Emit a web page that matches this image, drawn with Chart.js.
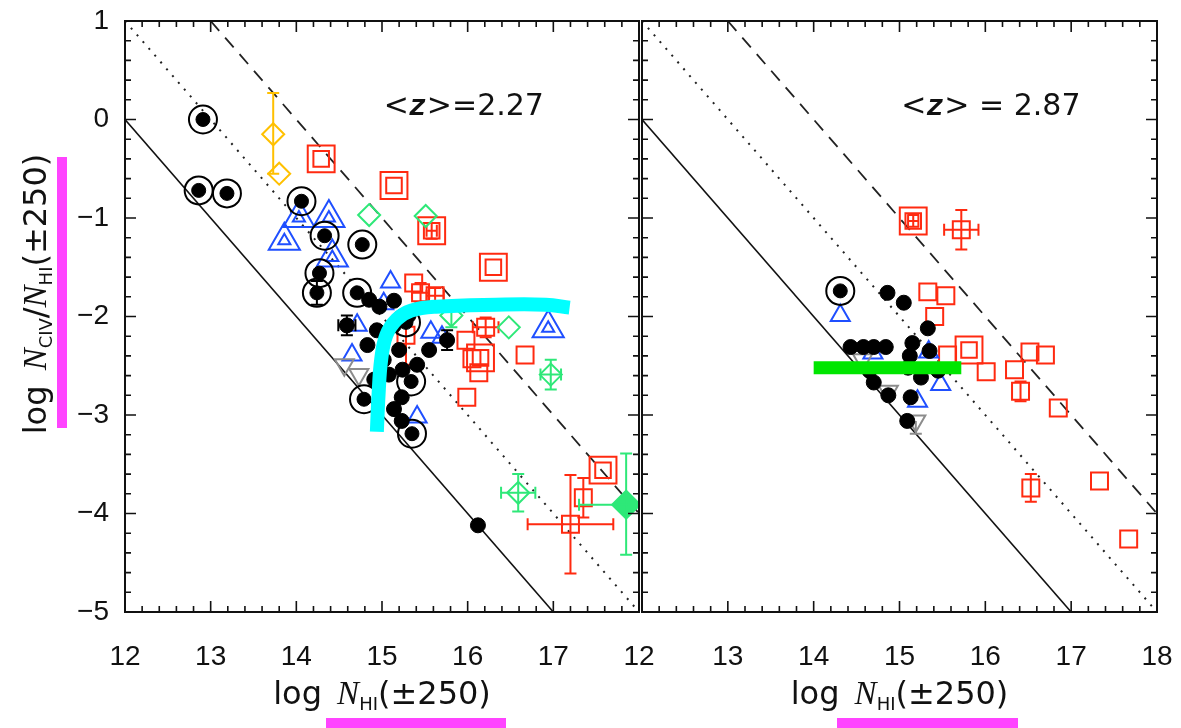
<!DOCTYPE html>
<html>
<head>
<meta charset="utf-8">
<script src="https://cdn.jsdelivr.net/npm/chart.js@4.4.0/dist/chart.umd.min.js"></script>
<style>
  html, body { margin: 0; padding: 0; background: #fff; }
  #wrap { position: relative; width: 1181px; height: 728px; overflow: hidden; }
  #left { position: absolute; left: 0; top: 0; }
  #right { position: absolute; left: 621px; top: 0; }
  .mark { position: absolute; background: #ff44ff; }
</style>
</head>
<body>
<div id="wrap">
  <canvas id="left" width="660" height="728"></canvas>
  <canvas id="right" width="560" height="728"></canvas>
  <div class="mark" style="left:57px;top:157px;width:10px;height:271px"></div>
  <div class="mark" style="left:326px;top:718px;width:180px;height:12px"></div>
  <div class="mark" style="left:837px;top:718px;width:181px;height:12px"></div>
</div>
<script>
// axes
const xTicks = [12, 13, 14, 15, 16, 17, 18];
const yTicks = [1, 0, -1, -2, -3, -4, -5];

// reference lines  log(NCIV/NHI) = c - log NHI
const lineSolid = [[12, 0], [17, -5]];
const lineDotted = [[12, 1], [18, -5]];
const lineDashed = [[13, 1], [18, -4]];

// points: [x, y, xErrLo, xErrHi, yErrLo, yErrHi]
// ---- left panel, <z> = 2.27
const leftDots = [[14.85,-1.83],[14.97,-1.90],[15.14,-1.84],[15.31,-1.99],[14.94,-2.14],[15.14,-2.09],
  [14.83,-2.29],[15.02,-2.44],[15.20,-2.34],[14.91,-2.64],[15.08,-2.59],[15.24,-2.54],[15.23,-2.82],
  [15.14,-2.94],[15.23,-3.06],[15.41,-2.49],[15.55,-2.34],[16.12,-4.12]];
const leftDotsErr = [[14.59,-2.09,0.1,0.1,0.1,0.1],[15.76,-2.24,0,0,0.1,0.1]];
const leftRings = [[12.91,0.0],[12.86,-0.72],[13.19,-0.75],[14.06,-0.83],[14.33,-1.18],[14.77,-1.27],
  [14.27,-1.56],[14.24,-1.76,0,0,0.12,0.12],[14.71,-1.76],[15.28,-2.06],[15.34,-2.66],[14.79,-2.84],[15.35,-3.19]];
const leftBlueBig = [[14.03,-1.00],[13.86,-1.23],[14.38,-1.00],[14.42,-1.40],[16.94,-2.12]];
const leftBlueSmall = [[15.10,-1.65],[14.71,-2.09],[14.65,-2.39],[15.41,-3.02],[15.57,-2.16],[15.70,-2.21],[15.02,-1.87]];
const leftGreyDown = [[14.56,-2.49],[14.73,-2.59]];
const leftRedBig = [[14.29,-0.40],[15.14,-0.67],[15.58,-1.13,0.06,0.06,0.08,0.08],[16.30,-1.50],[16.15,-2.42],[17.58,-3.56]];
const leftRedSmall = [[15.37,-1.66],[15.45,-1.76,0.1,0.1,0.1,0.1],[15.62,-1.79,0.1,0.1,0.08,0.08],
  [15.28,-2.19,0,0,0.3,0.1],[16.21,-2.11,0.15,0.15,0.1,0.1],[15.98,-2.24],[16.05,-2.43],[16.13,-2.57],
  [16.67,-2.39],[15.99,-2.82],[17.20,-4.11,0.5,0.5,0.5,0.5],[17.35,-3.84,0,0,0.2,0.2]];
const leftGreenOpen = [[14.85,-0.97],[15.51,-0.98],[16.48,-2.11],[15.81,-1.99,0,0,0.12,0.1],
  [16.97,-2.59,0.12,0.12,0.15,0.15],[16.59,-3.79,0.2,0.2,0.19,0.19]];
const leftGreenFilled = [[17.85,-3.91,0.55,0,0.51,0.52]];
const leftYellow = [[13.73,-0.15,0,0,0.4,0.42],[13.80,-0.55]];
const leftHighlight = [[14.94,-3.17],[14.96,-2.79],[14.99,-2.44],[15.05,-2.19],[15.17,-2.03],
  [15.34,-1.94],[15.63,-1.90],[16.33,-1.88],[16.91,-1.88],[17.19,-1.91]];

// ---- right panel, <z> = 2.87
const rightDots = [[14.86,-1.76],[15.05,-1.86],[14.43,-2.31],[14.58,-2.31],[14.70,-2.31],[14.84,-2.31],
  [15.15,-2.27],[15.33,-2.12],[14.70,-2.67],[14.87,-2.80],[15.13,-2.82],[15.09,-3.06],[15.10,-2.52],
  [15.25,-2.62],[15.45,-2.55],[14.65,-2.55],[15.35,-2.35],[15.12,-2.40]];
const rightRings = [[14.31,-1.74]];
const rightBlueSmall = [[14.31,-1.99],[14.69,-2.37],[15.34,-2.36],[15.21,-2.86],[15.48,-2.69]];
const rightGreyDown = [[14.57,-2.44],[14.87,-2.76],[15.19,-3.06,0,0,0.13,0]];
const rightRedBig = [[15.16,-1.03,0.06,0.06,0.06,0.06],[15.81,-2.34]];
const rightRedSmall = [[15.33,-1.75],[15.54,-1.79],[15.41,-2.00],[15.56,-2.39],[16.01,-2.56],[16.34,-2.54],
  [16.52,-2.36],[16.70,-2.39],[16.85,-2.93],[17.33,-3.67],[17.67,-4.26],[15.72,-1.12,0.2,0.2,0.2,0.2],
  [16.41,-2.76,0,0,0.1,0.1],[16.53,-3.74,0,0,0.14,0.14]];
const rightHighlight = [[14.0,-2.52],[15.72,-2.52]];

const SANS = '"Liberation Sans", Arial, sans-serif';
const DJV = '"DejaVu Sans", sans-serif';
const RED = '#ff2a10', BLUE = '#1f4fff', GREEN = '#2ee878', GREY = '#8c8c8c', GOLD = '#ffc000';

function pts(arr) {
  return arr.map(a => ({
    x: a[0], y: a[1],
    ex: a.length > 2 ? [a[2], a[3]] : null,
    ey: a.length > 4 ? [a[4], a[5]] : null
  }));
}

function marks(arr, style, r, color, fill, extra) {
  return Object.assign({
    type: 'scatter', data: pts(arr), pointStyle: style, pointRadius: r,
    pointBorderColor: color, pointBackgroundColor: fill || 'rgba(0,0,0,0)',
    pointBorderWidth: 2, borderColor: color, errors: true, order: 5
  }, extra || {});
}

function curve(arr, color, width, dash, order, tension) {
  return {
    type: 'scatter', showLine: true, data: pts(arr), borderColor: color, borderWidth: width,
    borderDash: dash || [], pointRadius: 0, order: order, tension: tension || 0, borderCapStyle: 'butt'
  };
}

function refLines() {
  return [
    curve(lineSolid, '#111', 1.6, [], 30),
    curve(lineDotted, '#222', 2, [2, 7], 30),
    curve(lineDashed, '#222', 1.8, [13, 9], 30)
  ];
}

// inner ticks on all four sides and the frame
const frameTicks = {
  id: 'frameTicks',
  afterDraw(chart) {
    const { ctx, chartArea: a, scales: { x, y } } = chart;
    ctx.save();
    ctx.strokeStyle = '#111';
    ctx.lineWidth = 2;
    ctx.strokeRect(a.left, a.top, a.right - a.left, a.bottom - a.top);
    ctx.lineWidth = 1.6;
    ctx.beginPath();
    const nx = Math.round((x.max - x.min) / 0.2);
    for (let i = 0; i <= nx; i++) {
      const px = x.getPixelForValue(x.min + i * 0.2);
      const len = i % 5 === 0 ? 11 : 6;
      ctx.moveTo(px, a.bottom); ctx.lineTo(px, a.bottom - len);
      ctx.moveTo(px, a.top); ctx.lineTo(px, a.top + len);
    }
    const ny = Math.round((y.max - y.min) / 0.2);
    for (let i = 0; i <= ny; i++) {
      const py = y.getPixelForValue(y.min + i * 0.2);
      const len = i % 5 === 0 ? 11 : 6;
      ctx.moveTo(a.left, py); ctx.lineTo(a.left + len, py);
      ctx.moveTo(a.right, py); ctx.lineTo(a.right - len, py);
    }
    ctx.stroke();
    ctx.restore();
  }
};

// error bars with caps, drawn right after their own dataset
const errorBars = {
  id: 'errorBars',
  afterDatasetDraw(chart, args) {
    const ds = chart.data.datasets[args.index];
    if (!ds.errors) return;
    const { ctx, scales: { x, y } } = chart;
    const cap = 6;
    ctx.save();
    ctx.strokeStyle = ds.borderColor;
    ctx.lineWidth = 2;
    ctx.beginPath();
    ds.data.forEach(p => {
      const cx = x.getPixelForValue(p.x), cy = y.getPixelForValue(p.y);
      if (p.ex) {
        const l = x.getPixelForValue(p.x - p.ex[0]), r = x.getPixelForValue(p.x + p.ex[1]);
        ctx.moveTo(l, cy); ctx.lineTo(r, cy);
        if (p.ex[0]) { ctx.moveTo(l, cy - cap); ctx.lineTo(l, cy + cap); }
        if (p.ex[1]) { ctx.moveTo(r, cy - cap); ctx.lineTo(r, cy + cap); }
      }
      if (p.ey) {
        const b = y.getPixelForValue(p.y - p.ey[0]), t = y.getPixelForValue(p.y + p.ey[1]);
        ctx.moveTo(cx, b); ctx.lineTo(cx, t);
        if (p.ey[0]) { ctx.moveTo(cx - cap, b); ctx.lineTo(cx + cap, b); }
        if (p.ey[1]) { ctx.moveTo(cx - cap, t); ctx.lineTo(cx + cap, t); }
      }
    });
    ctx.stroke();
    ctx.restore();
  }
};

function richText(ctx, parts, x, y, align) {
  let w = 0;
  parts.forEach(p => { ctx.font = p.font; w += ctx.measureText(p.text).width + (p.gap || 0); });
  let cx = align === 'center' ? x - w / 2 : x;
  parts.forEach(p => {
    ctx.font = p.font;
    cx += p.gap || 0;
    ctx.fillText(p.text, cx, y + (p.dy || 0));
    cx += ctx.measureText(p.text).width;
  });
}

const nItalic = 'italic 33px "Liberation Serif", serif';
const subFont = '18px ' + DJV;
const titleFont = '32px ' + DJV;
const titleX = [
  { text: 'log ', font: titleFont }, { text: 'N', font: nItalic, gap: 5 },
  { text: 'HI', font: subFont, dy: 6 }, { text: '(±250)', font: titleFont }
];
const titleY = [
  { text: 'log ', font: titleFont }, { text: 'N', font: nItalic, gap: 5 },
  { text: 'CIV', font: subFont, dy: 6 }, { text: '/', font: titleFont },
  { text: 'N', font: nItalic }, { text: 'HI', font: subFont, dy: 6 },
  { text: '(±250)', font: titleFont }
];
function zLabel(rest) {
  return [
    { text: '<', font: '30px ' + DJV }, { text: 'z', font: 'bold italic 30px "Liberation Mono", monospace' },
    { text: rest, font: '30px ' + DJV }
  ];
}

function texts(zText, withY) {
  return {
    id: 'texts',
    afterDraw(chart) {
      const { ctx, chartArea: a, scales: { x, y } } = chart;
      ctx.save();
      ctx.fillStyle = '#111';
      ctx.textBaseline = 'alphabetic';
      richText(ctx, titleX, (a.left + a.right) / 2, 704, 'center');
      richText(ctx, zLabel(zText), x.getPixelForValue(15.02), y.getPixelForValue(0.05), 'left');
      if (withY) {
        ctx.translate(46, 294);
        ctx.rotate(-Math.PI / 2);
        richText(ctx, titleY, 0, 0, 'center');
      }
      ctx.restore();
    }
  };
}

function options(isLeft) {
  return {
    responsive: false, animation: false, events: [],
    layout: { padding: isLeft ? { top: 10, right: 19, left: 0, bottom: 0 } : { top: 10, right: 24, left: 20, bottom: 0 } },
    plugins: { legend: { display: false }, tooltip: { enabled: false } },
    scales: {
      x: {
        type: 'linear', min: xTicks[0], max: xTicks[xTicks.length - 1],
        grid: { display: false }, border: { display: false },
        afterBuildTicks: s => { s.ticks = xTicks.map(v => ({ value: v })); },
        ticks: {
          font: { family: SANS, size: 28 }, color: '#111', padding: 20, maxRotation: 0, autoSkip: false,
          callback: v => isLeft ? (v === 18 ? '12' : String(v)) : (v === 12 ? '' : String(v))
        },
        afterFit: s => { s.height = 116; s.paddingLeft = 0; s.paddingRight = 0; }
      },
      y: {
        type: 'linear', min: yTicks[yTicks.length - 1], max: yTicks[0], display: isLeft,
        grid: { display: false }, border: { display: false },
        afterBuildTicks: s => { s.ticks = yTicks.map(v => ({ value: v })); },
        ticks: {
          font: { family: SANS, size: 28 }, color: '#111', padding: 8,
          callback: v => v < 0 ? '\u2212' + Math.abs(v) : String(v)
        },
        afterFit: s => { if (isLeft) s.width = 125; s.paddingTop = 0; s.paddingBottom = 0; }
      }
    }
  };
}

const leftSets = [
  curve(leftHighlight, '#00ffff', 14, [], 0, 0.4),
  marks(leftDots, 'circle', 7.5, '#000', '#000', { pointBorderWidth: 1 }),
  marks(leftDotsErr, 'circle', 7.5, '#000', '#000', { pointBorderWidth: 1 }),
  marks(leftRings, 'circle', 7, '#000', '#000', { pointBorderWidth: 1 }),
  marks(leftRings, 'circle', 14, '#000', null, { errors: false }),
  marks(leftGreyDown, 'triangle', 11, GREY, null, { pointRotation: 180 }),
  marks(leftBlueSmall, 'triangle', 11, BLUE),
  marks(leftBlueBig, 'triangle', 7, BLUE),
  marks(leftBlueBig, 'triangle', 18, BLUE, null, { errors: false }),
  marks(leftGreenOpen, 'rectRot', 11, GREEN),
  marks(leftGreenFilled, 'rectRot', 14, GREEN, GREEN),
  marks(leftYellow, 'rectRot', 11, GOLD),
  marks(leftRedSmall, 'rect', 12, RED),
  marks(leftRedBig, 'rect', 11, RED),
  marks(leftRedBig, 'rect', 19, RED, null, { errors: false })
].concat(refLines());

const rightSets = [
  curve(rightHighlight, '#00e600', 13, [], 0),
  marks(rightDots, 'circle', 7.5, '#000', '#000', { pointBorderWidth: 1 }),
  marks(rightRings, 'circle', 7, '#000', '#000', { pointBorderWidth: 1 }),
  marks(rightRings, 'circle', 14, '#000', null, { errors: false }),
  marks(rightGreyDown, 'triangle', 11, GREY, null, { pointRotation: 180 }),
  marks(rightBlueSmall, 'triangle', 11, BLUE),
  marks(rightRedSmall, 'rect', 12, RED),
  marks(rightRedBig, 'rect', 11, RED),
  marks(rightRedBig, 'rect', 19, RED, null, { errors: false })
].concat(refLines());

new Chart(document.getElementById('left'), {
  type: 'scatter', data: { datasets: leftSets }, options: options(true),
  plugins: [frameTicks, errorBars, texts('>=2.27', true)]
});
new Chart(document.getElementById('right'), {
  type: 'scatter', data: { datasets: rightSets }, options: options(false),
  plugins: [frameTicks, errorBars, texts('> = 2.87', false)]
});
</script>
</body>
</html>
